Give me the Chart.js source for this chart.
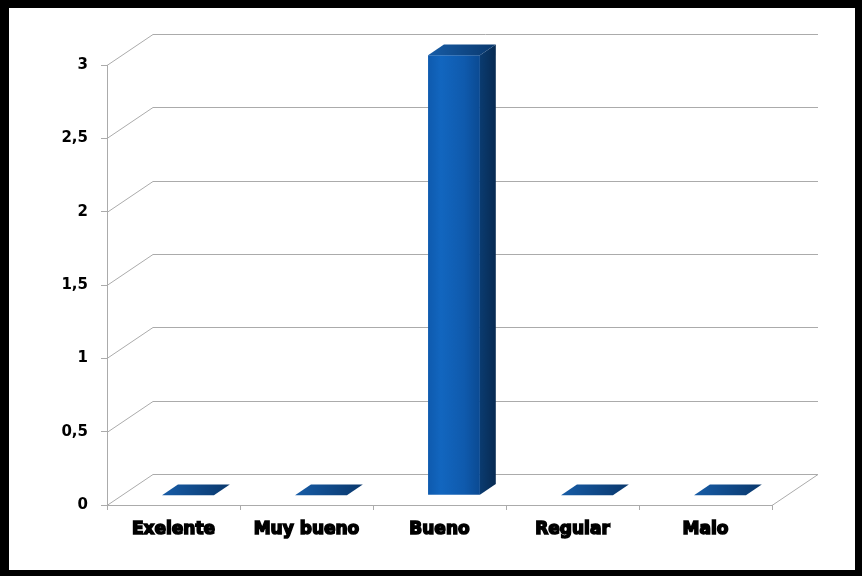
<!DOCTYPE html>
<html>
<head>
<meta charset="utf-8">
<script src="https://cdn.jsdelivr.net/npm/chart.js@4/dist/chart.umd.min.js"></script>
<style>
  body { margin: 0; background: #fff; }
  #frame {
    width: 862px; height: 576px; box-sizing: border-box;
    border-style: solid; border-color: #000;
    border-width: 8px 7px 6px 9px;
  }
  canvas { display: block; }
</style>
</head>
<body>
<div id="frame"><canvas id="chart" width="846" height="562"></canvas></div>
<script>
// data
const categories = ['Exelente', 'Muy bueno', 'Bueno', 'Regular', 'Malo'];
const values = [0, 0, 3, 0, 0];
const yTicks = [0, 0.5, 1, 1.5, 2, 2.5, 3];

// 3d look
const depthX = 46;
const depthY = -31;
const barFront = 0.315;
const barBack = 0.66;
const gridColor = '#ababab';

const fmt = v => String(v).replace('.', ',');

const grid3d = {
    id: 'grid3d',
    beforeDatasetsDraw(chart) {
        const ctx = chart.ctx;
        const area = chart.chartArea;
        const y = chart.scales.y;
        ctx.save();
        ctx.strokeStyle = gridColor;
        ctx.lineWidth = 1;
        yTicks.forEach(v => {
            const py = Math.round(y.getPixelForValue(v)) + 0.5;
            ctx.beginPath();
            ctx.moveTo(area.left, py);
            ctx.lineTo(area.left + depthX, py + depthY);
            ctx.lineTo(area.right + depthX, py + depthY);
            if (v === 0) ctx.lineTo(area.right, py);
            ctx.stroke();
        });
        ctx.restore();
    }
};

const bars3d = {
    id: 'bars3d',
    afterDatasetsDraw(chart) {
        const ctx = chart.ctx;
        const meta = chart.getDatasetMeta(0);
        ctx.save();
        meta.data.forEach(bar => {
            const p = bar.getProps(['x', 'y', 'base', 'width'], true);
            const x0 = p.x - p.width / 2;
            const x1 = p.x + p.width / 2;
            const fx = barFront * depthX, fy = barFront * depthY;
            const bx = barBack * depthX, by = barBack * depthY;
            const top = p.y, base = p.base;

            // side face
            if (base - top > 0.5) {
                let g = ctx.createLinearGradient(x1 + fx, 0, x1 + bx, 0);
                g.addColorStop(0, '#0a3b70');
                g.addColorStop(1, '#072a52');
                ctx.fillStyle = g;
                ctx.beginPath();
                ctx.moveTo(x1 + fx, top + fy);
                ctx.lineTo(x1 + bx, top + by);
                ctx.lineTo(x1 + bx, base + by);
                ctx.lineTo(x1 + fx, base + fy);
                ctx.closePath();
                ctx.fill();

                // front face
                g = ctx.createLinearGradient(x0 + fx, 0, x1 + fx, 0);
                g.addColorStop(0, '#0e5aae');
                g.addColorStop(0.25, '#1266bf');
                g.addColorStop(0.7, '#0f5aad');
                g.addColorStop(1, '#0b4a92');
                ctx.fillStyle = g;
                ctx.fillRect(x0 + fx, top + fy, x1 - x0, base - top);
            }

            // top face
            const g = ctx.createLinearGradient(x0 + fx, 0, x1 + bx, 0);
            g.addColorStop(0, '#175ca6');
            g.addColorStop(1, '#0a386d');
            ctx.fillStyle = g;
            ctx.beginPath();
            ctx.moveTo(x0 + fx, top + fy);
            ctx.lineTo(x1 + fx, top + fy);
            ctx.lineTo(x1 + bx, top + by);
            ctx.lineTo(x0 + bx, top + by);
            ctx.closePath();
            ctx.fill();
        });
        ctx.restore();
    }
};

new Chart(document.getElementById('chart').getContext('2d'), {
    type: 'bar',
    data: {
        labels: categories,
        datasets: [{
            data: values,
            backgroundColor: 'rgba(0,0,0,0)',
            borderWidth: 0,
            categoryPercentage: 1,
            barPercentage: 0.39
        }]
    },
    options: {
        responsive: false,
        animation: false,
        layout: { padding: { top: 57, right: 83, left: 0, bottom: 0 } },
        plugins: {
            legend: { display: false },
            tooltip: { enabled: false }
        },
        scales: {
            x: {
                afterFit: scale => { scale.height = 65; },
                grid: {
                    drawOnChartArea: false,
                    drawTicks: true,
                    tickLength: 5,
                    color: gridColor
                },
                border: { display: true, color: gridColor },
                ticks: {
                    padding: 9,
                    color: '#000',
                    textStrokeColor: '#000',
                    textStrokeWidth: 1.5,
                    font: { family: 'DejaVu Sans', size: 17, weight: 'bold' }
                }
            },
            y: {
                min: 0,
                max: 3,
                afterFit: scale => { scale.width = 98; },
                afterBuildTicks: scale => { scale.ticks = yTicks.map(v => ({ value: v })); },
                grid: {
                    drawOnChartArea: false,
                    drawTicks: true,
                    tickLength: 6,
                    color: gridColor
                },
                border: { display: true, color: gridColor },
                ticks: {
                    padding: 13,
                    color: '#000',
                    callback: v => fmt(v),
                    font: { family: 'DejaVu Sans', size: 15, weight: 'bold' }
                }
            }
        }
    },
    plugins: [grid3d, bars3d]
});
</script>
</body>
</html>
